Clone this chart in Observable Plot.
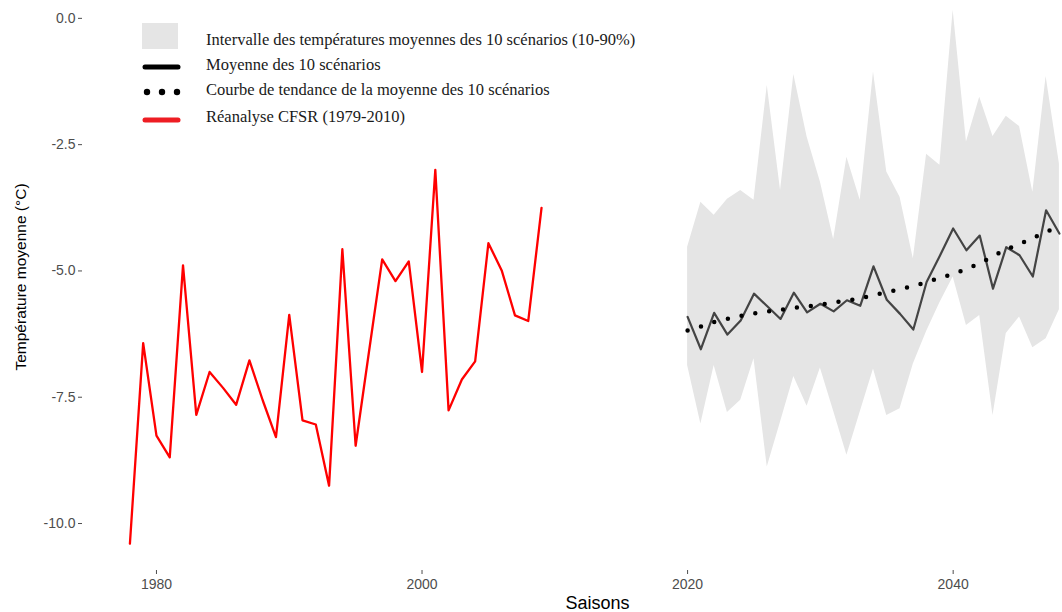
<!DOCTYPE html>
<html><head><meta charset="utf-8">
<script src="https://cdn.jsdelivr.net/npm/d3@7"></script>
<script src="https://cdn.jsdelivr.net/npm/@observablehq/plot@0.6"></script>
<style>
html,body{margin:0;padding:0;background:#fff;overflow:hidden;}
#wrap{position:relative;width:1062px;height:612px;overflow:hidden;background:#fff;}
#chart{position:absolute;left:0;top:-17px;}
#chart svg{max-width:none !important;}
#legend{position:absolute;left:0;top:0;}
[aria-label="x-axis label"] text{fill:#000;font-size:18px;}
[aria-label="y-axis label"] text{fill:#000;font-size:15.5px;}
</style></head>
<body>
<div id="wrap"><div id="chart"></div><svg id="legend" width="700" height="140"></svg></div>
<script>
// --- data ---
const cfsrYears = [1978,1979,1980,1981,1982,1983,1984,1985,1986,1987,1988,1989,1990,1991,1992,1993,1994,1995,1996,1997,1998,1999,2000,2001,2002,2003,2004,2005,2006,2007,2008,2009];
const cfsrTemp = [-10.40,-6.43,-8.26,-8.69,-4.89,-7.85,-7.00,-7.31,-7.65,-6.77,-7.56,-8.29,-5.87,-7.96,-8.04,-9.25,-4.57,-8.46,-6.61,-4.77,-5.20,-4.81,-7.00,-3.00,-7.76,-7.15,-6.79,-4.45,-4.99,-5.88,-5.99,-3.75];

const scenYears = [2020,2021,2022,2023,2024,2025,2026,2027,2028,2029,2030,2031,2032,2033,2034,2035,2036,2037,2038,2039,2040,2041,2042,2043,2044,2045,2046,2047,2048];
const q90 = [-4.53,-3.64,-3.90,-3.58,-3.41,-3.60,-1.33,-3.41,-1.11,-2.35,-3.24,-4.38,-2.75,-3.60,-1.06,-3.04,-3.54,-4.76,-2.69,-2.91,0.16,-2.45,-1.56,-2.34,-1.94,-2.14,-3.44,-1.15,-2.88];
const q10 = [-6.87,-8.03,-6.87,-7.80,-7.56,-6.74,-8.88,-7.99,-7.09,-7.68,-6.92,-7.78,-8.65,-7.79,-6.94,-7.86,-7.73,-6.84,-6.20,-5.63,-5.12,-6.08,-5.88,-7.86,-6.24,-5.91,-6.52,-6.34,-5.77];
const meanTemp = [-5.91,-6.55,-5.83,-6.26,-5.98,-5.45,-5.70,-5.95,-5.43,-5.82,-5.65,-5.80,-5.58,-5.69,-4.91,-5.57,-5.85,-6.16,-5.22,-4.70,-4.16,-4.59,-4.30,-5.35,-4.53,-4.69,-5.11,-3.80,-4.26];
const trendTemp = [-6.18,-6.10,-6.01,-5.95,-5.89,-5.84,-5.80,-5.77,-5.73,-5.70,-5.67,-5.62,-5.59,-5.54,-5.48,-5.42,-5.36,-5.30,-5.22,-5.14,-5.06,-4.96,-4.85,-4.71,-4.57,-4.47,-4.35,-4.23,-4.11];

const xTicks = [1980, 2000, 2020, 2040];
const yTicks = [0, -2.5, -5, -7.5, -10];

const legendLabels = [
  "Intervalle des températures moyennes des 10 scénarios (10-90%)",
  "Moyenne des 10 scénarios",
  "Courbe de tendance de la moyenne des 10 scénarios",
  "Réanalyse CFSR (1979-2010)"
];

// --- tables ---
const cfsr = cfsrYears.map((year, i) => ({year, temp: cfsrTemp[i]}));
const scen = scenYears.map((year, i) => ({year, lo: q10[i], hi: q90[i], mean: meanTemp[i], trend: trendTemp[i]}));

const chart = Plot.plot({
  width: 1112,
  height: 629,
  marginLeft: 82,
  marginRight: 0,
  marginTop: 0,
  marginBottom: 42,
  x: {domain: [1974.43, 2052.0]},
  y: {domain: [-10.93, 0.69]},
  style: {fontFamily: "'Liberation Sans', Arial, sans-serif", background: "white", overflow: "hidden"},
  marks: [
    Plot.areaY(scen, {x: "year", y1: "lo", y2: "hi", fill: "#e5e5e5"}),
    Plot.line(scen, {x: "year", y: "mean", stroke: "#444444", strokeWidth: 2.2}),
    Plot.line(scen, {x: "year", y: "trend", stroke: "#000", strokeWidth: 4.5, strokeDasharray: "0 14", strokeLinecap: "round"}),
    Plot.line(cfsr, {x: "year", y: "temp", stroke: "#ff0000", strokeWidth: 2.3}),
    Plot.axisX({ticks: xTicks, tickFormat: d => String(d), tickSize: 4, tickPadding: 5, fontSize: 14, color: "#4d4d4d",
      label: "Saisons", labelAnchor: "center", labelArrow: "none", labelOffset: 38}),
    Plot.axisY({ticks: yTicks, tickFormat: d => d.toFixed(1), tickSize: 4, tickPadding: 3, fontSize: 14, color: "#4d4d4d",
      label: "Température moyenne (°C)", labelAnchor: "center", labelArrow: "none", labelOffset: 68})
  ]
});
document.getElementById("chart").appendChild(chart);

// --- legend ---
const lg = d3.select("#legend");
const rowY = [41, 66, 91, 118];
lg.append("rect").attr("x", 142).attr("y", 23).attr("width", 36).attr("height", 26).attr("fill", "#e5e5e5");
lg.append("line").attr("x1", 145).attr("x2", 178).attr("y1", 67).attr("y2", 67)
  .attr("stroke", "#000").attr("stroke-width", 5).attr("stroke-linecap", "round");
[147, 162, 177].forEach(cx => lg.append("circle").attr("cx", cx).attr("cy", 92).attr("r", 3.2).attr("fill", "#000"));
lg.append("line").attr("x1", 145).attr("x2", 178).attr("y1", 120).attr("y2", 120)
  .attr("stroke", "#ee1d23").attr("stroke-width", 5).attr("stroke-linecap", "round");
legendLabels.forEach((t, i) => {
  lg.append("text").attr("x", 206).attr("y", rowY[i]).attr("dominant-baseline", "middle")
    .attr("font-family", "'Liberation Serif', 'Times New Roman', serif").attr("font-size", 16.5)
    .attr("fill", "#1a1a1a").text(t);
});
</script>
</body></html>
